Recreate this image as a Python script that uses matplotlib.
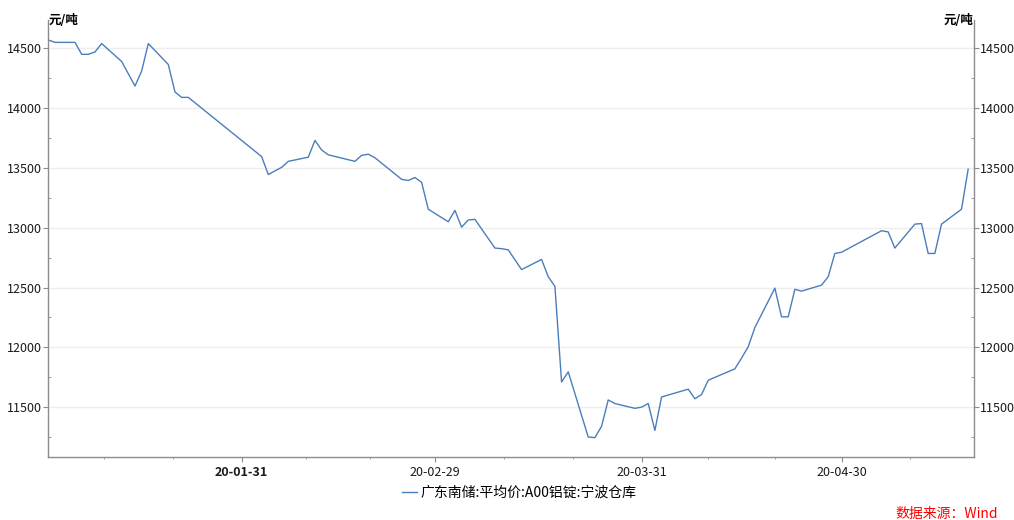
import matplotlib
matplotlib.use('Agg')
import matplotlib.pyplot as plt
import matplotlib.dates as mdates
from matplotlib.ticker import MultipleLocator, FixedLocator
import pandas as pd

# vertices of the price line
dates = [
    '2020-01-02', '2020-01-03', '2020-01-06', '2020-01-07', '2020-01-08', '2020-01-09',
    '2020-01-10', '2020-01-13', '2020-01-15', '2020-01-16', '2020-01-17', '2020-01-20',
    '2020-01-21', '2020-01-22', '2020-01-23', '2020-02-03', '2020-02-04', '2020-02-06',
    '2020-02-07', '2020-02-10', '2020-02-11', '2020-02-12', '2020-02-13', '2020-02-17',
    '2020-02-18', '2020-02-19', '2020-02-20', '2020-02-24', '2020-02-25', '2020-02-26',
    '2020-02-27', '2020-02-28', '2020-03-02', '2020-03-03', '2020-03-04', '2020-03-05',
    '2020-03-06', '2020-03-09', '2020-03-10', '2020-03-11', '2020-03-13', '2020-03-16',
    '2020-03-17', '2020-03-18', '2020-03-19', '2020-03-20', '2020-03-23', '2020-03-24',
    '2020-03-25', '2020-03-26', '2020-03-27', '2020-03-30', '2020-03-31', '2020-04-01',
    '2020-04-02', '2020-04-03', '2020-04-07', '2020-04-08', '2020-04-09', '2020-04-10',
    '2020-04-14', '2020-04-15', '2020-04-16', '2020-04-17', '2020-04-20', '2020-04-21',
    '2020-04-22', '2020-04-23', '2020-04-24', '2020-04-27', '2020-04-28', '2020-04-29',
    '2020-04-30', '2020-05-06', '2020-05-07', '2020-05-08', '2020-05-11', '2020-05-12',
    '2020-05-13', '2020-05-14', '2020-05-15', '2020-05-18', '2020-05-19',
]
prices = [
    14570, 14550, 14550, 14450, 14450, 14470,
    14540, 14390, 14185, 14310, 14540, 14365,
    14135, 14090, 14090, 13595, 13445, 13505,
    13555, 13590, 13730, 13650, 13610, 13555,
    13605, 13615, 13585, 13405, 13395, 13420,
    13380, 13155, 13050, 13145, 13005, 13065,
    13070, 12830, 12825, 12815, 12650, 12735,
    12590, 12510, 11710, 11795, 11250, 11245,
    11340, 11560, 11530, 11490, 11500, 11530,
    11305, 11585, 11650, 11570, 11605, 11725,
    11820, 11910, 12005, 12165, 12495, 12255,
    12255, 12485, 12470, 12520, 12590, 12785,
    12795, 12975, 12965, 12830, 13030, 13035,
    12785, 12785, 13030, 13155, 13490,
]

series_name = '广东南储:平均价:A00铝锭:宁波仓库'
unit = '元/吨'
source = '数据来源：Wind'
tick_dates = ['2020-01-31', '2020-02-29', '2020-03-31', '2020-04-30']
tick_labels = ['20-01-31', '20-02-29', '20-03-31', '20-04-30']
month_ends = ['2019-12-31', '2020-01-31', '2020-02-29', '2020-03-31', '2020-04-30', '2020-05-31']

plt.rcParams['font.family'] = ['Noto Sans CJK SC', 'DejaVu Sans']

x = pd.to_datetime(dates)
fig = plt.figure(figsize=(10.14, 5.2), dpi=100)
ax = fig.add_axes([48 / 1014, 63 / 520, 925.5 / 1014, 437 / 520])

line, = ax.plot(x, prices, color='#4a7ebb', lw=1.0)

x0 = mdates.date2num(pd.Timestamp('2020-01-02'))
ax.set_xlim(x0 - 0.05, x0 + 138.8)
ax.set_ylim(11083, 14737)

ax.yaxis.set_major_locator(MultipleLocator(500))
ax.yaxis.set_minor_locator(MultipleLocator(250))
ax.grid(axis='y', which='major', color='#eeeeee', lw=1.0)
ax.set_axisbelow(True)

major = mdates.date2num(pd.to_datetime(tick_dates))
ax.xaxis.set_major_locator(FixedLocator(major))
ax.set_xticklabels(tick_labels)
ends = mdates.date2num(pd.to_datetime(month_ends))
minors = []
for a, b in zip(ends[:-1], ends[1:]):
    minors += [a + (b - a) / 3, a + 2 * (b - a) / 3]
ax.xaxis.set_minor_locator(FixedLocator(minors))
ax.get_xticklabels()[0].set_fontweight('bold')

for s in ['left', 'right', 'bottom']:
    ax.spines[s].set_color('#8c8c8c')
    ax.spines[s].set_linewidth(1.0)
ax.spines['top'].set_visible(False)

ax.tick_params(axis='y', which='both', left=True, right=True, labelright=True,
               labelsize=9, colors='#8c8c8c', labelcolor='#1a1a1a')
ax.tick_params(axis='y', which='major', direction='out', length=3.5, pad=1)
ax.tick_params(axis='y', which='minor', direction='in', length=2.5)
ax.tick_params(axis='x', which='major', direction='out', length=3.5, pad=3,
               labelsize=9, colors='#8c8c8c', labelcolor='#1a1a1a')
ax.tick_params(axis='x', which='minor', direction='out', length=1.5, colors='#8c8c8c')

fig.text(49 / 1014, 1 - 21 / 520, unit, fontsize=9, fontweight='bold', ha='left', va='center')
fig.text(973 / 1014, 1 - 21 / 520, unit, fontsize=9, fontweight='bold', ha='right', va='center')

fig.legend([line], [series_name], loc='center', bbox_to_anchor=(519 / 1014, 1 - 493 / 520),
           frameon=False, fontsize=10, handlelength=1.1, handletextpad=0.25)

fig.text(998 / 1014, 1 - 514 / 520, source, color='#ff0000', fontsize=10, style='italic',
         ha='right', va='center')

fig.savefig('out.png', dpi=100)
